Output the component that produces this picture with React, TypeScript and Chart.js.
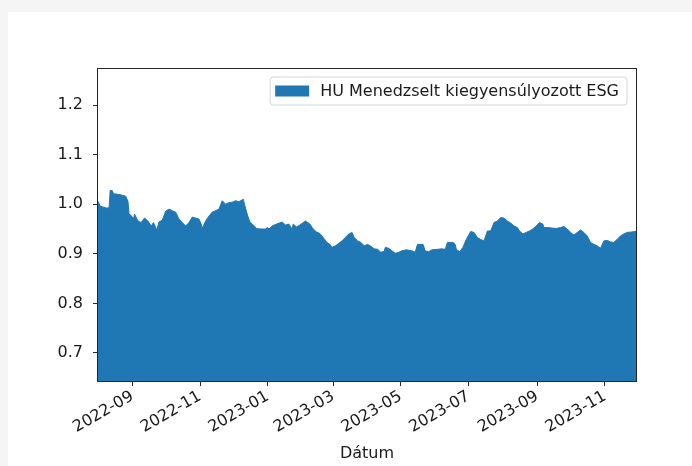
import React, { useEffect, useRef } from "react";
import { Chart, registerables } from "chart.js";

Chart.register(...registerables);

const seriesLabel = "HU Menedzselt kiegyensúlyozott ESG";

const dates = [
  "2022-08-01", "2022-08-03", "2022-08-06", "2022-08-09", "2022-08-11", "2022-08-12",
  "2022-08-14", "2022-08-15", "2022-08-19", "2022-08-23", "2022-08-26", "2022-08-28",
  "2022-08-29", "2022-08-31", "2022-09-02", "2022-09-03", "2022-09-06", "2022-09-09",
  "2022-09-12", "2022-09-15", "2022-09-18", "2022-09-20", "2022-09-23", "2022-09-25",
  "2022-09-28", "2022-10-01", "2022-10-04", "2022-10-07", "2022-10-10", "2022-10-13",
  "2022-10-16", "2022-10-19", "2022-10-22", "2022-10-25", "2022-10-28", "2022-10-31",
  "2022-11-02", "2022-11-03", "2022-11-06", "2022-11-09", "2022-11-12", "2022-11-15",
  "2022-11-18", "2022-11-21", "2022-11-24", "2022-11-27", "2022-11-30", "2022-12-03",
  "2022-12-06", "2022-12-10", "2022-12-11", "2022-12-14", "2022-12-16", "2022-12-19",
  "2022-12-22", "2022-12-25", "2022-12-30", "2023-01-01", "2023-01-02", "2023-01-05",
  "2023-01-09", "2023-01-14", "2023-01-17", "2023-01-20", "2023-01-23", "2023-01-24",
  "2023-01-27", "2023-01-30", "2023-02-02", "2023-02-04", "2023-02-08", "2023-02-11",
  "2023-02-14", "2023-02-17", "2023-02-20", "2023-02-23", "2023-02-26", "2023-02-28",
  "2023-03-03", "2023-03-06", "2023-03-09", "2023-03-12", "2023-03-15", "2023-03-18",
  "2023-03-20", "2023-03-23", "2023-03-26", "2023-03-29", "2023-04-01", "2023-04-04",
  "2023-04-07", "2023-04-10", "2023-04-13", "2023-04-16", "2023-04-17", "2023-04-20",
  "2023-04-23", "2023-04-26", "2023-04-29", "2023-05-02", "2023-05-06", "2023-05-11",
  "2023-05-14", "2023-05-16", "2023-05-21", "2023-05-23", "2023-05-26", "2023-05-29",
  "2023-06-03", "2023-06-07", "2023-06-10", "2023-06-12", "2023-06-17", "2023-06-19",
  "2023-06-20", "2023-06-23", "2023-06-26", "2023-06-29", "2023-07-03", "2023-07-06",
  "2023-07-09", "2023-07-12", "2023-07-15", "2023-07-18", "2023-07-21", "2023-07-24",
  "2023-07-27", "2023-07-30", "2023-08-02", "2023-08-05", "2023-08-08", "2023-08-11",
  "2023-08-14", "2023-08-16", "2023-08-19", "2023-08-22", "2023-08-25", "2023-08-28",
  "2023-08-31", "2023-09-03", "2023-09-06", "2023-09-07", "2023-09-10", "2023-09-14",
  "2023-09-18", "2023-09-22", "2023-09-25", "2023-09-28", "2023-10-01", "2023-10-04",
  "2023-10-07", "2023-10-10", "2023-10-13", "2023-10-16", "2023-10-19", "2023-10-22",
  "2023-10-25", "2023-10-28", "2023-10-31", "2023-11-03", "2023-11-06", "2023-11-09",
  "2023-11-12", "2023-11-15", "2023-11-18", "2023-11-21", "2023-11-25", "2023-11-29",
];

const values = [
  1.006, 0.996, 0.994, 0.992, 0.993, 1.028,
  1.027, 1.021, 1.020, 1.018, 1.016, 1.006,
  0.980, 0.977, 0.970, 0.980, 0.966, 0.963,
  0.972, 0.966, 0.956, 0.963, 0.948, 0.964,
  0.968, 0.986, 0.990, 0.987, 0.984, 0.970,
  0.963, 0.956, 0.963, 0.974, 0.972, 0.970,
  0.960, 0.951, 0.966, 0.976, 0.984, 0.987,
  0.990, 1.007, 1.000, 1.003, 1.004, 1.007,
  1.005, 1.010, 1.000, 0.976, 0.964, 0.958,
  0.951, 0.950, 0.950, 0.953, 0.950, 0.956,
  0.960, 0.964, 0.958, 0.960, 0.950, 0.960,
  0.954, 0.958, 0.963, 0.966, 0.960, 0.950,
  0.944, 0.941, 0.933, 0.924, 0.919, 0.913,
  0.916, 0.921, 0.926, 0.933, 0.940, 0.943,
  0.933, 0.926, 0.923, 0.916, 0.919, 0.915,
  0.910, 0.909, 0.903, 0.905, 0.913, 0.911,
  0.906, 0.901, 0.903, 0.906, 0.908, 0.906,
  0.903, 0.919, 0.919, 0.906, 0.904, 0.908,
  0.909, 0.910, 0.909, 0.923, 0.923, 0.919,
  0.909, 0.904, 0.913, 0.929, 0.945, 0.943,
  0.933, 0.929, 0.926, 0.946, 0.946, 0.963,
  0.966, 0.973, 0.972, 0.966, 0.962, 0.956,
  0.953, 0.946, 0.940, 0.943, 0.946, 0.950,
  0.956, 0.963, 0.960, 0.953, 0.953, 0.952,
  0.951, 0.953, 0.955, 0.950, 0.943, 0.938,
  0.943, 0.948, 0.943, 0.936, 0.923, 0.919,
  0.916, 0.911, 0.926, 0.927, 0.924, 0.923,
  0.929, 0.936, 0.940, 0.943, 0.944, 0.945,
];

const xTickDates = [
  "2022-09-01", "2022-11-01", "2023-01-01", "2023-03-01",
  "2023-05-01", "2023-07-01", "2023-09-01", "2023-11-01",
];
const xTickLabels = [
  "2022-09", "2022-11", "2023-01", "2023-03",
  "2023-05", "2023-07", "2023-09", "2023-11",
];
const yTicks = [0.7, 0.8, 0.9, 1.0, 1.1, 1.2];
const yRange = [0.6435, 1.2726];
const xAxisTitle = "Dátum";

const toTime = (s: string) => {
  const [y, m, d] = s.split("-").map(Number);
  return Date.UTC(y, m - 1, d);
};

const FONT = "'DejaVu Sans', sans-serif";
const FS = 16;
const BLUE = "#1f77b4";

const framePlugin = {
  id: "mplFrame",
  beforeDraw(chart: any) {
    const { ctx, width, height } = chart;
    ctx.save();
    ctx.fillStyle = "#ffffff";
    ctx.fillRect(0, 0, width, height);
    ctx.restore();
  },
  afterDraw(chart: any) {
    const { ctx, chartArea: a } = chart;
    ctx.save();
    ctx.strokeStyle = "#262626";
    ctx.lineWidth = 1;
    const l = Math.round(a.left) - 0.5;
    const t = Math.round(a.top) - 0.5;
    const r = Math.round(a.right) + 0.5;
    const b = Math.round(a.bottom) + 0.5;
    ctx.strokeRect(l, t, r - l, b - t);

    const label = chart.data.datasets[0].label as string;
    ctx.font = `${FS}px ${FONT}`;
    const tw = ctx.measureText(label).width;
    const padL = 5, handleW = 34, gap = 11, padR = 8;
    const boxW = padL + handleW + gap + tw + padR;
    const boxH = 28;
    const bx = a.right - 9 - boxW;
    const by = a.top + 8;
    const rad = 3;
    ctx.beginPath();
    ctx.moveTo(bx + rad, by);
    ctx.lineTo(bx + boxW - rad, by);
    ctx.arcTo(bx + boxW, by, bx + boxW, by + rad, rad);
    ctx.lineTo(bx + boxW, by + boxH - rad);
    ctx.arcTo(bx + boxW, by + boxH, bx + boxW - rad, by + boxH, rad);
    ctx.lineTo(bx + rad, by + boxH);
    ctx.arcTo(bx, by + boxH, bx, by + boxH - rad, rad);
    ctx.lineTo(bx, by + rad);
    ctx.arcTo(bx, by, bx + rad, by, rad);
    ctx.closePath();
    ctx.fillStyle = "rgba(255,255,255,0.8)";
    ctx.fill();
    ctx.strokeStyle = "#d6d6d6";
    ctx.lineWidth = 1;
    ctx.stroke();
    ctx.fillStyle = BLUE;
    ctx.fillRect(bx + padL, by + boxH / 2 - 5.5, handleW, 11);
    ctx.fillStyle = "#1a1a1a";
    ctx.textBaseline = "middle";
    ctx.textAlign = "left";
    ctx.fillText(label, bx + padL + handleW + gap, by + boxH / 2 + 0.5);
    ctx.restore();
  },
};

export default function App() {
  const ref = useRef<HTMLCanvasElement>(null);

  useEffect(() => {
    if (!ref.current) return;
    const points = dates.map((d, i) => ({ x: toTime(d), y: values[i] }));
    const chart = new Chart(ref.current, {
      type: "line",
      data: {
        datasets: [
          {
            label: seriesLabel,
            data: points,
            borderColor: BLUE,
            backgroundColor: BLUE,
            borderWidth: 1,
            pointRadius: 0,
            tension: 0,
            fill: "start",
          },
        ],
      },
      options: {
        animation: false,
        responsive: false,
        devicePixelRatio: 1,
        events: [],
        layout: { padding: { left: 0, top: 57, right: 56, bottom: 0 } },
        plugins: {
          legend: { display: false },
          tooltip: { enabled: false },
        },
        scales: {
          x: {
            type: "linear",
            min: toTime(dates[0]),
            max: toTime(dates[dates.length - 1]),
            afterBuildTicks: (scale: any) => {
              scale.ticks = xTickDates.map((d) => ({ value: toTime(d) }));
            },
            afterFit: (scale: any) => {
              scale.height = 85;
            },
            grid: {
              display: true,
              drawOnChartArea: false,
              drawTicks: true,
              tickLength: 5,
              color: "#262626",
              lineWidth: 1,
            },
            border: { display: false },
            ticks: {
              autoSkip: false,
              minRotation: 30,
              maxRotation: 30,
              padding: 1,
              color: "#1a1a1a",
              font: { family: FONT, size: FS },
              callback: (_v: any, i: number) => xTickLabels[i],
            },
            title: {
              display: true,
              text: xAxisTitle,
              color: "#1a1a1a",
              font: { family: FONT, size: FS },
              padding: { top: 0, bottom: 3 },
            },
          },
          y: {
            type: "linear",
            min: yRange[0],
            max: yRange[1],
            afterBuildTicks: (scale: any) => {
              scale.ticks = yTicks.map((v) => ({ value: v }));
            },
            afterFit: (scale: any) => {
              scale.width = 90;
            },
            grid: {
              display: true,
              drawOnChartArea: false,
              drawTicks: true,
              tickLength: 5,
              color: "#262626",
              lineWidth: 1,
            },
            border: { display: false },
            ticks: {
              padding: 10,
              color: "#1a1a1a",
              font: { family: FONT, size: FS },
              callback: (v: any) => Number(v).toFixed(1),
            },
          },
        },
      },
      plugins: [framePlugin],
    });
    return () => chart.destroy();
  }, []);

  return (
    <div
      style={{
        position: "fixed",
        left: 0,
        top: 0,
        width: 692,
        height: 466,
        background: "#f5f5f5",
        overflow: "hidden",
      }}
    >
      <canvas
        ref={ref}
        width={684}
        height={454}
        style={{ position: "absolute", left: 8, top: 12, width: 684, height: 454 }}
      />
    </div>
  );
}
